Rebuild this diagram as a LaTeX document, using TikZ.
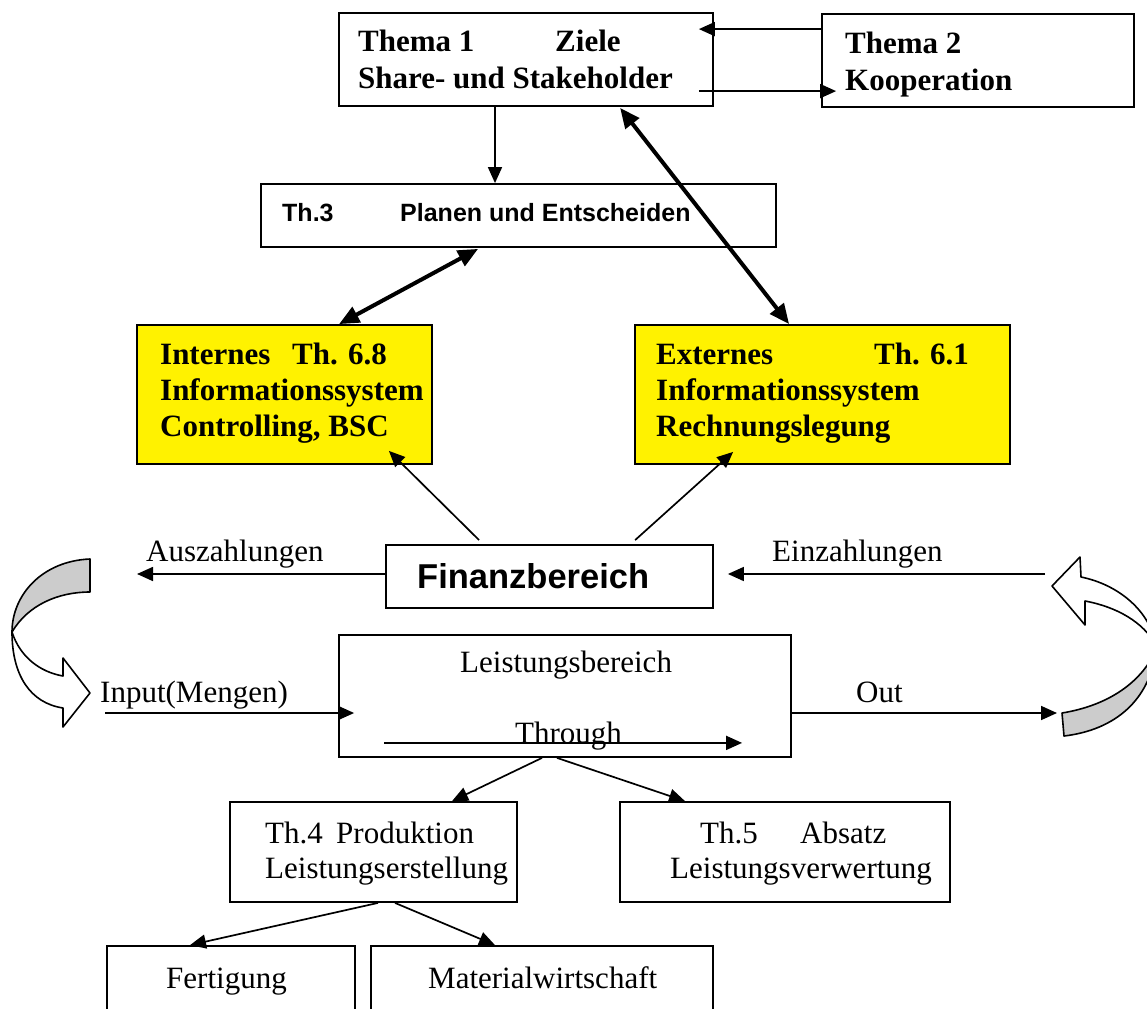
\documentclass[tikz,border=0pt]{standalone}
\usepackage{fontspec}
\setmainfont{Liberation Serif}
\setsansfont{Liberation Sans}
\usetikzlibrary{arrows.meta,calc}
\begin{document}
\begin{tikzpicture}[x=1pt,y=-1pt,
  box/.style={draw, line width=1.8pt, rectangle, inner sep=0pt, fill=white},
  ybox/.style={box, fill=yellow},
  txt/.style={inner sep=0pt, anchor=base west, font=\fontsize{31}{36}\selectfont},
  btxt/.style={txt, font=\fontsize{31}{36}\selectfont\bfseries},
  stxt/.style={txt, font=\fontsize{25}{30}\selectfont\sffamily\bfseries},
  ftxt/.style={txt, font=\fontsize{34.5}{40}\selectfont\sffamily\bfseries},
  arr/.style={line width=1.7pt, -{Triangle[length=16pt,width=14pt]}},
  dbl/.style={line width=4pt, {Triangle[length=20pt,width=17pt]}-{Triangle[length=20pt,width=17pt]}},
  ribbon/.style={draw, line width=1.6pt, line join=round}
]
\useasboundingbox (0,0) rectangle (1147,1008);
\clip (0,0) rectangle (1147,1008);
\fill[white] (0,0) rectangle (1147,1008);

% boxes
\node[box, minimum width=374pt, minimum height=93pt] (t1) at (526,59.5) {};
\node[box, minimum width=312pt, minimum height=93pt] (t2) at (978,60.5) {};
\node[box, minimum width=515pt, minimum height=63pt] (th3) at (518.5,215.5) {};
\node[ybox, minimum width=295pt, minimum height=139pt] (int) at (284.5,394.5) {};
\node[ybox, minimum width=375pt, minimum height=139pt] (ext) at (822.5,394.5) {};
\node[box, minimum width=327pt, minimum height=63pt] (fin) at (549.5,576.5) {};
\node[box, minimum width=452pt, minimum height=122pt] (lb) at (565,696) {};
\node[box, minimum width=287pt, minimum height=100pt] (th4) at (373.5,852) {};
\node[box, minimum width=330pt, minimum height=100pt] (th5) at (785,852) {};
\node[box, minimum width=248pt, minimum height=84pt] (fert) at (231,988) {};
\node[box, minimum width=342pt, minimum height=84pt] (mat) at (542,988) {};

% texts
\node[btxt] (t1a) at (358,52) {Thema 1};
\node[btxt] (t1b) at (555,52) {Ziele};
\node[btxt] (t1c) at (358,89) {Share- und Stakeholder};
\node[btxt] (t2a) at (845,54) {Thema 2};
\node[btxt] (t2b) at (845,91) {Kooperation};
\node[stxt] (th3a) at (282,222) {Th.3};
\node[stxt] (th3b) at (400,222) {Planen und Entscheiden};
\node[btxt] (inta) at (160,364) {Internes};
\node[btxt] (intb) at (292,364) {Th. 6.8};
\node[btxt] (intc) at (160,400) {Informationssystem};
\node[btxt] (intd) at (160,436) {Controlling, BSC};
\node[btxt] (exta) at (656,364) {Externes};
\node[btxt] (extb) at (874,364) {Th. 6.1};
\node[btxt] (extc) at (656,400) {Informationssystem};
\node[btxt] (extd) at (656,436) {Rechnungslegung};
\node[ftxt] (fina) at (417,588) {Finanzbereich};
\node[txt] (ausz) at (146,561) {Auszahlungen};
\node[txt] (einz) at (772,561) {Einzahlungen};
\node[txt] (inp) at (100,702) {Input(Mengen)};
\node[txt] (outl) at (856,702) {Out};
\node[txt] (lba) at (460,672) {Leistungsbereich};
\node[txt] (lbb) at (515,743) {Through};
\node[txt] (th4a) at (265,843) {Th.4};
\node[txt] (th4b) at (336,843) {Produktion};
\node[txt] (th4c) at (265,878) {Leistungserstellung};
\node[txt] (th5a) at (700,843) {Th.5};
\node[txt] (th5b) at (800,843) {Absatz};
\node[txt] (th5c) at (670,878) {Leistungsverwertung};
\node[txt] (ferta) at (166,988) {Fertigung};
\node[txt] (mata) at (428,988) {Materialwirtschaft};

% free ends
\coordinate (auszEnd) at (137,574);
\coordinate (einzStart) at (1045,574);
\coordinate (inStart) at (105,713);
\coordinate (outEnd) at (1057,713);

% connectors
\draw[arr] ($(t2.north west)+(0,16)$) -- ($(t1.north east)+(-15,17)$);
\draw[arr] ($(t1.north east)+(-15,79)$) -- ($(t2.north west)+(15,78)$);
\draw[arr] ($(t1.south)+(-31,0)$) -- ($(th3.north)+(-23.5,0)$);
\draw[dbl] ($(th3.south west)+(218,1)$) -- ($(int.north west)+(203,0)$);
\draw[dbl] ($(t1.south west)+(282,1)$) -- ($(ext.north west)+(155,0)$);
\draw[arr] ($(fin.north west)+(94,-4)$) -- ($(int.south east)+(-44,-14)$);
\draw[arr] ($(fin.north west)+(250,-4)$) -- ($(ext.south west)+(99,-13)$);
\draw[arr] ($(fin.west)+(0,-2.5)$) -- (auszEnd);
\draw[arr] (einzStart) -- ($(fin.east)+(14,-2.5)$);
\draw[arr] (inStart) -- ($(lb.west)+(16,17)$);
\draw[arr] ($(lb.east)+(0,17)$) -- (outEnd);
\draw[arr] ($(lb.south west)+(46,-15)$) -- ($(lb.south west)+(404,-15)$);
\draw[arr] ($(lb.south)+(-23,0)$) -- ($(th4.north)+(78.5,0)$);
\draw[arr] ($(lb.south)+(-8,0)$) -- ($(th5.north)+(-100,0)$);
\draw[arr] ($(th4.south)+(4.5,0)$) -- ($(fert.north)+(-41,0)$);
\draw[arr] ($(th4.south)+(21.5,0)$) -- ($(mat.north)+(-47,0)$);

% curved ribbon arrows
\filldraw[ribbon, fill=gray!40] (90,559) .. controls (42,561) and (12,595) .. (12,632) .. controls (28,605) and (58,592) .. (90,592) -- cycle;
\filldraw[ribbon, fill=white] (12,632) .. controls (20,657) and (40,672) .. (63,676) -- (63,658) -- (90,693) -- (63,727) -- (63,708) .. controls (30,703) and (12,675) .. (12,632) -- cycle;
\filldraw[ribbon, fill=gray!40] (1062,713) -- (1064,736) .. controls (1115,730) and (1150,700) .. (1156,650) .. controls (1140,685) and (1105,706) .. (1062,713) -- cycle;
\filldraw[ribbon, fill=white] (1156,645) .. controls (1150,612) and (1120,585) .. (1081,577) -- (1080,557) -- (1052,586) -- (1085,625) -- (1085,601) .. controls (1117,607) and (1143,622) .. (1156,645) -- cycle;
\end{tikzpicture}
\end{document}
